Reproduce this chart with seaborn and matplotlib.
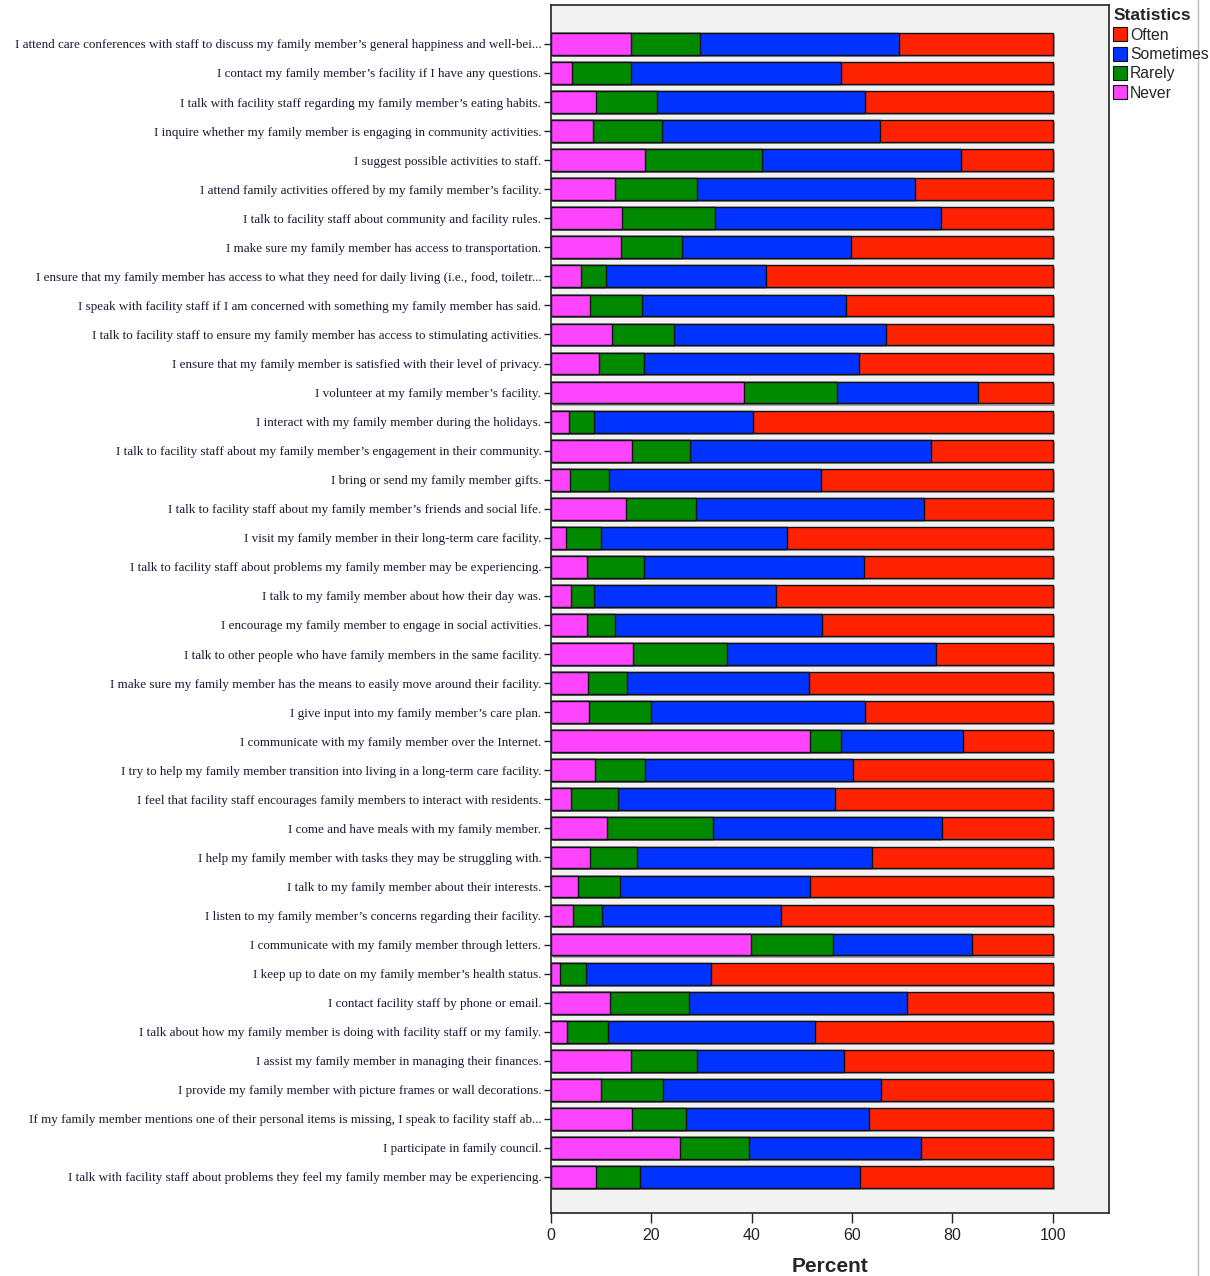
import matplotlib
matplotlib.use("Agg")
import matplotlib.pyplot as plt
import matplotlib.patheffects as pe
from matplotlib.lines import Line2D
from matplotlib.patches import Patch
import numpy as np
import pandas as pd
import seaborn as sns

items = [
    "I attend care conferences with staff to discuss my family member’s general happiness and well-bei...",
    "I contact my family member’s facility if I have any questions.",
    "I talk with facility staff regarding my family member’s eating habits.",
    "I inquire whether my family member is engaging in community activities.",
    "I suggest possible activities to staff.",
    "I attend family activities offered by my family member’s facility.",
    "I talk to facility staff about community and facility rules.",
    "I make sure my family member has access to transportation.",
    "I ensure that my family member has access to what they need for daily living (i.e., food, toiletr...",
    "I speak with facility staff if I am concerned with something my family member has said.",
    "I talk to facility staff to ensure my family member has access to stimulating activities.",
    "I ensure that my family member is satisfied with their level of privacy.",
    "I volunteer at my family member’s facility.",
    "I interact with my family member during the holidays.",
    "I talk to facility staff about my family member’s engagement in their community.",
    "I bring or send my family member gifts.",
    "I talk to facility staff about my family member’s friends and social life.",
    "I visit my family member in their long-term care facility.",
    "I talk to facility staff about problems my family member may be experiencing.",
    "I talk to my family member about how their day was.",
    "I encourage my family member to engage in social activities.",
    "I talk to other people who have family members in the same facility.",
    "I make sure my family member has the means to easily move around their facility.",
    "I give input into my family member’s care plan.",
    "I communicate with my family member over the Internet.",
    "I try to help my family member transition into living in a long-term care facility.",
    "I feel that facility staff encourages family members to interact with residents.",
    "I come and have meals with my family member.",
    "I help my family member with tasks they may be struggling with.",
    "I talk to my family member about their interests.",
    "I listen to my family member’s concerns regarding their facility.",
    "I communicate with my family member through letters.",
    "I keep up to date on my family member’s health status.",
    "I contact facility staff by phone or email.",
    "I talk about how my family member is doing with facility staff or my family.",
    "I assist my family member in managing their finances.",
    "I provide my family member with picture frames or wall decorations.",
    "If my family member mentions one of their personal items is missing, I speak to facility staff ab...",
    "I participate in family council.",
    "I talk with facility staff about problems they feel my family member may be experiencing.",
]

# percent of respondents per answer, same order as items
never = [15.9, 4.2, 9.0, 8.4, 18.8, 12.7, 14.2, 13.9, 5.9, 7.8,
         12.2, 9.5, 38.4, 3.5, 16.2, 3.7, 14.9, 2.9, 7.1, 3.9,
         7.1, 16.3, 7.4, 7.6, 51.6, 8.8, 4.0, 11.2, 7.8, 5.4,
         4.4, 39.8, 1.7, 11.8, 3.2, 15.9, 10.0, 16.1, 25.7, 9.0]
rarely = [13.8, 11.7, 12.1, 13.7, 23.2, 16.4, 18.4, 12.3, 5.1, 10.3,
          12.4, 9.0, 18.6, 5.1, 11.5, 7.8, 14.0, 7.1, 11.5, 4.7,
          5.6, 18.7, 7.8, 12.3, 6.1, 9.9, 9.4, 21.1, 9.3, 8.3,
          5.8, 16.4, 5.2, 15.7, 8.1, 13.1, 12.3, 10.9, 13.7, 8.7]
sometimes = [39.7, 41.8, 41.5, 43.4, 39.7, 43.5, 45.2, 33.5, 31.8, 40.7,
             42.2, 42.9, 28.1, 31.6, 48.0, 42.4, 45.5, 37.0, 43.8, 36.2,
             41.4, 41.8, 36.3, 42.7, 24.5, 41.5, 43.1, 45.7, 46.9, 38.0,
             35.6, 27.7, 24.9, 43.4, 41.4, 29.4, 43.4, 36.3, 34.4, 43.9]
often = [30.6, 42.3, 37.4, 34.5, 18.3, 27.4, 22.2, 40.3, 57.2, 41.2,
         33.2, 38.6, 14.9, 59.8, 24.3, 46.1, 25.6, 53.0, 37.6, 55.2,
         45.9, 23.2, 48.5, 37.4, 17.8, 39.8, 43.5, 22.0, 36.0, 48.3,
         54.2, 16.1, 68.2, 29.1, 47.3, 41.6, 34.3, 36.7, 26.2, 38.4]

answers = ["Often", "Sometimes", "Rarely", "Never"]
colors = {"Often": "#ff2200", "Sometimes": "#0033ff",
          "Rarely": "#008a00", "Never": "#ff44ff"}

SANS = ["Liberation Sans Narrow", "Liberation Sans", "DejaVu Sans"]
SERIF = ["Liberation Serif", "DejaVu Serif"]

df = pd.DataFrame({"item": items, "Never": never, "Rarely": rarely,
                   "Sometimes": sometimes, "Often": often})
# stacked from the left: Never, Rarely, Sometimes, Often
cum = df[["Never", "Rarely", "Sometimes", "Often"]].cumsum(axis=1)
cum["item"] = df["item"]

sns.set_style("white")
fig = plt.figure(figsize=(12.1, 12.76), dpi=100)
ax = fig.add_axes([551 / 1210, 1 - 1213 / 1276, 558 / 1210, 1208 / 1276])
ax.set_facecolor("#f2f2f2")

shadow = [pe.SimplePatchShadow(offset=(1.5, -1.5), shadow_rgbFace="#9a9a9a", alpha=0.8),
          pe.Normal()]
# draw the widest layer first, narrower ones on top
for ans in answers:
    sns.barplot(data=cum, x=ans, y="item", order=items, orient="h",
                color=colors[ans], saturation=1, width=0.75,
                edgecolor="#111111", linewidth=1.0, ax=ax)

for p in ax.patches[:len(items)]:
    p.set_path_effects(shadow)

ax.set_xlim(0, 111.2)
ax.set_ylim(len(items) - 1 + 1.24, -1.34)
ax.set_xticks([0, 20, 40, 60, 80, 100])
ax.set_xlabel("Percent", fontsize=15, fontweight="bold", labelpad=10, family=SANS)
ax.set_ylabel("")
ax.tick_params(axis="x", bottom=True, direction="out", length=7, width=1,
               labelsize=11.5, colors="#222233", pad=4)
ax.tick_params(axis="y", left=True, direction="out", length=5, width=1,
               labelsize=9.45, colors="#1b1b33", pad=2)
for lab in ax.get_yticklabels():
    lab.set_family(SERIF)
for lab in ax.get_xticklabels():
    lab.set_family(SANS)
for s in ax.spines.values():
    s.set_color("#222222")
    s.set_linewidth(1.2)

handles = [Patch(facecolor=colors[a], edgecolor="#111111", linewidth=0.8) for a in answers]
leg = fig.legend(handles, answers, title="Statistics", loc="upper left",
                 bbox_to_anchor=(1107 / 1210, 1 - 2 / 1276), frameon=False,
                 handlelength=0.9, handleheight=1.0, handletextpad=0.15,
                 labelspacing=0.25, borderpad=0.2, borderaxespad=0.2,
                 prop={"family": SANS, "size": 11.3})
leg.get_title().set_fontweight("bold")
leg.get_title().set_fontsize(12.5)
leg.get_title().set_family(SANS)
leg._legend_box.align = "left"

fig.add_artist(Line2D([1198 / 1210, 1198 / 1210], [0, 1], color="#bbbbbb", linewidth=1))

fig.savefig("out.png", dpi=100)
